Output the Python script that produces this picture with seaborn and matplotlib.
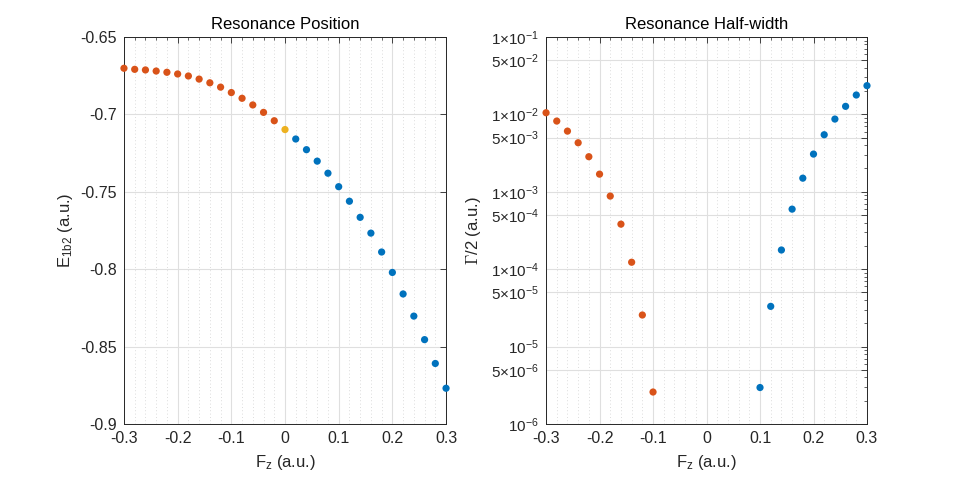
import numpy as np
import pandas as pd
import matplotlib
matplotlib.use("Agg")
import matplotlib.pyplot as plt
import seaborn as sns
from matplotlib.ticker import MultipleLocator, FixedLocator, FixedFormatter, LogLocator, NullFormatter

sns.set_theme(style="white")
plt.rcParams['font.family'] = ['Liberation Sans', 'DejaVu Sans']
plt.rcParams['mathtext.default'] = 'regular'

# Resonance position data
F_neg = [-0.30, -0.28, -0.26, -0.24, -0.22, -0.20, -0.18, -0.16, -0.14, -0.12,
         -0.10, -0.08, -0.06, -0.04, -0.02]
E_neg = [-0.6702, -0.6709, -0.6713, -0.6720, -0.6728, -0.6739, -0.6752, -0.6772,
         -0.6796, -0.6824, -0.6859, -0.6896, -0.6939, -0.6987, -0.7041]
F_zero = [0.0]
E_zero = [-0.7098]
F_pos = [0.02, 0.04, 0.06, 0.08, 0.10, 0.12, 0.14, 0.16, 0.18, 0.20, 0.22,
         0.24, 0.26, 0.28, 0.30]
E_pos = [-0.7159, -0.7228, -0.7302, -0.7380, -0.7467, -0.7561, -0.7665, -0.7767,
         -0.7889, -0.8021, -0.8160, -0.8303, -0.8455, -0.8609, -0.8769]

# Resonance half-width data
Fw_neg = [-0.30, -0.28, -0.26, -0.24, -0.22, -0.20, -0.18, -0.16, -0.14, -0.12, -0.10]
W_neg = [1.05e-2, 8.2e-3, 6.08e-3, 4.30e-3, 2.84e-3, 1.69e-3, 8.8e-4, 3.82e-4,
         1.23e-4, 2.56e-5, 2.59e-6]
Fw_pos = [0.10, 0.12, 0.14, 0.16, 0.18, 0.20, 0.22, 0.24, 0.26, 0.28, 0.30]
W_pos = [2.96e-6, 3.31e-5, 1.77e-4, 5.97e-4, 1.50e-3, 3.07e-3, 5.46e-3, 8.70e-3,
         1.27e-2, 1.78e-2, 2.35e-2]

x_ticks = [-0.3, -0.2, -0.1, 0, 0.1, 0.2, 0.3]
x_labels = ['-0.3', '-0.2', '-0.1', '0', '0.1', '0.2', '0.3']
e_ticks = [-0.9, -0.85, -0.8, -0.75, -0.7, -0.65]
e_labels = ['-0.9', '-0.85', '-0.8', '-0.75', '-0.7', '-0.65']
w_ticks = [1e-6, 5e-6, 1e-5, 5e-5, 1e-4, 5e-4, 1e-3, 5e-3, 1e-2, 5e-2, 1e-1]
w_labels = ['$10^{-6}$', '5×$10^{-6}$', '$10^{-5}$', '5×$10^{-5}$', '1×$10^{-4}$',
            '5×$10^{-4}$', '1×$10^{-3}$', '5×$10^{-3}$', '1×$10^{-2}$',
            '5×$10^{-2}$', '1×$10^{-1}$']

BLUE = '#0072BD'
ORANGE = '#D95319'
YELLOW = '#EDB120'
palette = {'neg': ORANGE, 'zero': YELLOW, 'pos': BLUE}

pos_df = pd.DataFrame({
    'F': F_neg + F_zero + F_pos,
    'E': E_neg + E_zero + E_pos,
    'branch': ['neg'] * len(F_neg) + ['zero'] * len(F_zero) + ['pos'] * len(F_pos),
})
wid_df = pd.DataFrame({
    'F': Fw_neg + Fw_pos,
    'W': W_neg + W_pos,
    'branch': ['neg'] * len(Fw_neg) + ['pos'] * len(Fw_pos),
})

fig = plt.figure(figsize=(9.58, 4.79), dpi=100)
ax1 = fig.add_axes([0.1294, 0.1148, 0.3362, 0.808])
ax2 = fig.add_axes([0.5700, 0.1148, 0.3350, 0.808])

sns.scatterplot(data=pos_df, x='F', y='E', hue='branch', palette=palette,
                s=27, edgecolor='none', legend=False, ax=ax1, zorder=3, clip_on=False)
sns.scatterplot(data=wid_df, x='F', y='W', hue='branch', palette=palette,
                s=27, edgecolor='none', legend=False, ax=ax2, zorder=3, clip_on=False)

AX_COL = '#262626'
for ax in (ax1, ax2):
    ax.set_xlim(-0.3, 0.3)
    ax.set_xticks(x_ticks)
    ax.set_xticklabels(x_labels)
    ax.xaxis.set_minor_locator(MultipleLocator(0.02))
    ax.grid(True, which='major', color='#dfdfdf', linewidth=0.8, linestyle='-')
    ax.grid(True, which='minor', axis='x', color='#d0d0d0', linewidth=0.6,
            linestyle=(0, (1, 3)))
    ax.set_axisbelow(True)
    ax.tick_params(which='both', direction='in', top=True, right=True,
                   color=AX_COL, labelcolor=AX_COL, labelsize=11.5, pad=5)
    ax.tick_params(which='major', length=4, width=0.6)
    ax.tick_params(which='minor', length=2, width=0.5)
    for sp in ax.spines.values():
        sp.set_color(AX_COL)
        sp.set_linewidth(0.7)
    ax.set_xlabel('F$_z$ (a.u.)', fontsize=12, color=AX_COL, labelpad=5)

ax1.set_ylim(-0.9, -0.65)
ax1.set_yticks(e_ticks)
ax1.set_yticklabels(e_labels)
ax1.set_ylabel('E$_{1b2}$ (a.u.)', fontsize=12, color=AX_COL, labelpad=4)
ax1.set_title('Resonance Position', fontsize=12, color='black', pad=6)

ax2.set_yscale('log')
ax2.set_ylim(1e-6, 1e-1)
ax2.yaxis.set_major_locator(FixedLocator(w_ticks))
ax2.yaxis.set_major_formatter(FixedFormatter(w_labels))
ax2.yaxis.set_minor_locator(LogLocator(base=10, subs=[2, 3, 4, 6, 7, 8, 9]))
ax2.yaxis.set_minor_formatter(NullFormatter())
ax2.tick_params(axis='y', labelsize=11)
ax2.set_ylabel('$\\mathrm{\\Gamma}$/2 (a.u.)', fontsize=12, color=AX_COL,
               math_fontfamily='cm', labelpad=6)
ax2.set_title('Resonance Half-width', fontsize=12, color='black', pad=6)

fig.savefig('out.png', dpi=100)
plt.close(fig)
